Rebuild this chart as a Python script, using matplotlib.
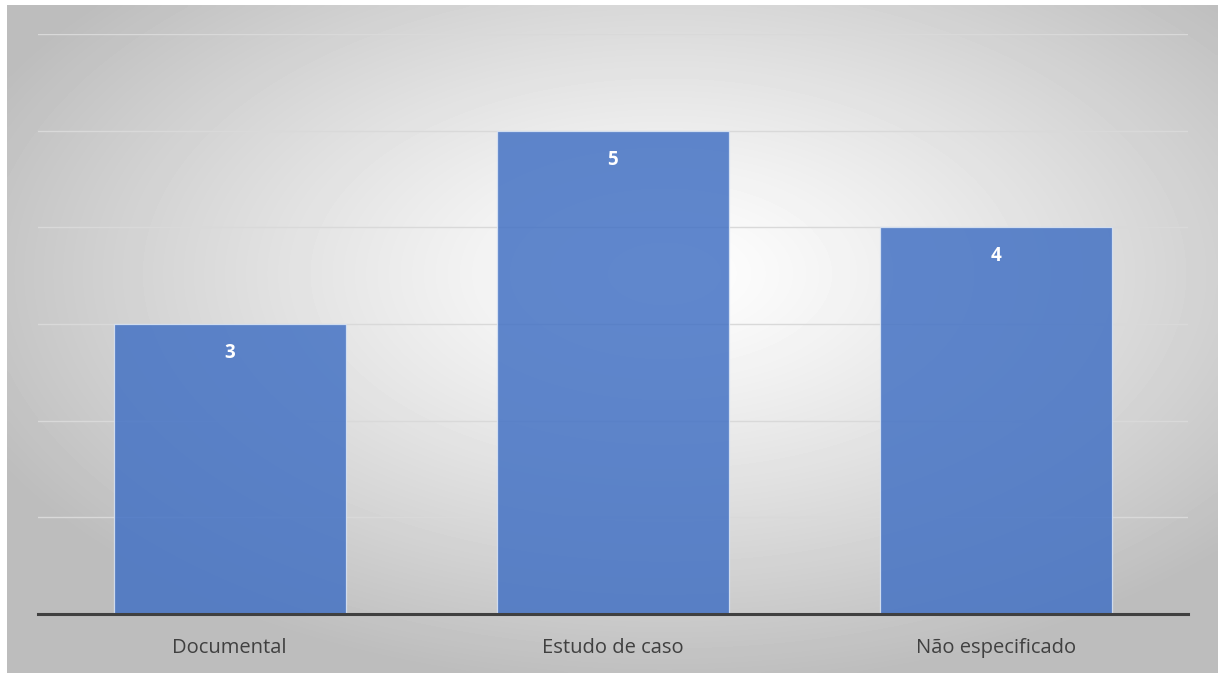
import matplotlib
matplotlib.use('Agg')
import matplotlib.pyplot as plt
import numpy as np

categories = ['Documental', 'Estudo de caso', 'Não especificado']
counts = [3, 5, 4]

plt.rcParams['font.family'] = ['Open Sans', 'DejaVu Sans']

W, H = 1218, 673
fig = plt.figure(figsize=(W / 100, H / 100), dpi=100)
fig.patch.set_facecolor('white')

# radial grey-to-white background behind the chart area
bg = fig.add_axes([7 / W, 0, 1 - 7 / W, 1 - 5 / H])
yy, xx = np.mgrid[0:200, 0:360]
cx, cy = 195, 80
r = np.sqrt(((xx - cx) / 360) ** 2 + ((yy - cy) / 200) ** 2) / 0.62
r = np.clip(r, 0, 1)
shade = 1.0 - 0.26 * r ** 1.2
bg.imshow(shade, cmap='gray', vmin=0, vmax=1, aspect='auto', interpolation='bicubic')
bg.axis('off')

ax = fig.add_axes([38 / W, 1 - 614 / H, 1150 / W, 580 / H])
ax.patch.set_alpha(0)
x = np.arange(len(categories))
bars = ax.bar(x, counts, width=0.605, color='#4472C4', alpha=0.85,
              edgecolor='#dce6f5', linewidth=0.9, zorder=3)

for b, v in zip(bars, counts):
    ax.text(b.get_x() + b.get_width() / 2, v - 0.3, str(v), ha='center', va='center',
            color='white', fontsize=13.5, fontweight='bold', zorder=4)

ax.set_xlim(-0.5, len(categories) - 0.5)
ax.set_ylim(0, 6)
ax.set_yticks(range(0, 7))
ax.yaxis.grid(True, color='#d9d9d9', linewidth=1.0, zorder=0)
ax.tick_params(axis='y', left=False, labelleft=False)
ax.tick_params(axis='x', bottom=False, pad=14, labelsize=14.5, labelcolor='#404040')
ax.set_xticks(x)
ax.set_xticklabels(categories)
for side in ['top', 'right', 'left']:
    ax.spines[side].set_visible(False)
ax.spines['bottom'].set_color('#404040')
ax.spines['bottom'].set_linewidth(2.2)
ax.spines['bottom'].set_zorder(5)

fig.savefig('out.png', dpi=100, facecolor='white')
